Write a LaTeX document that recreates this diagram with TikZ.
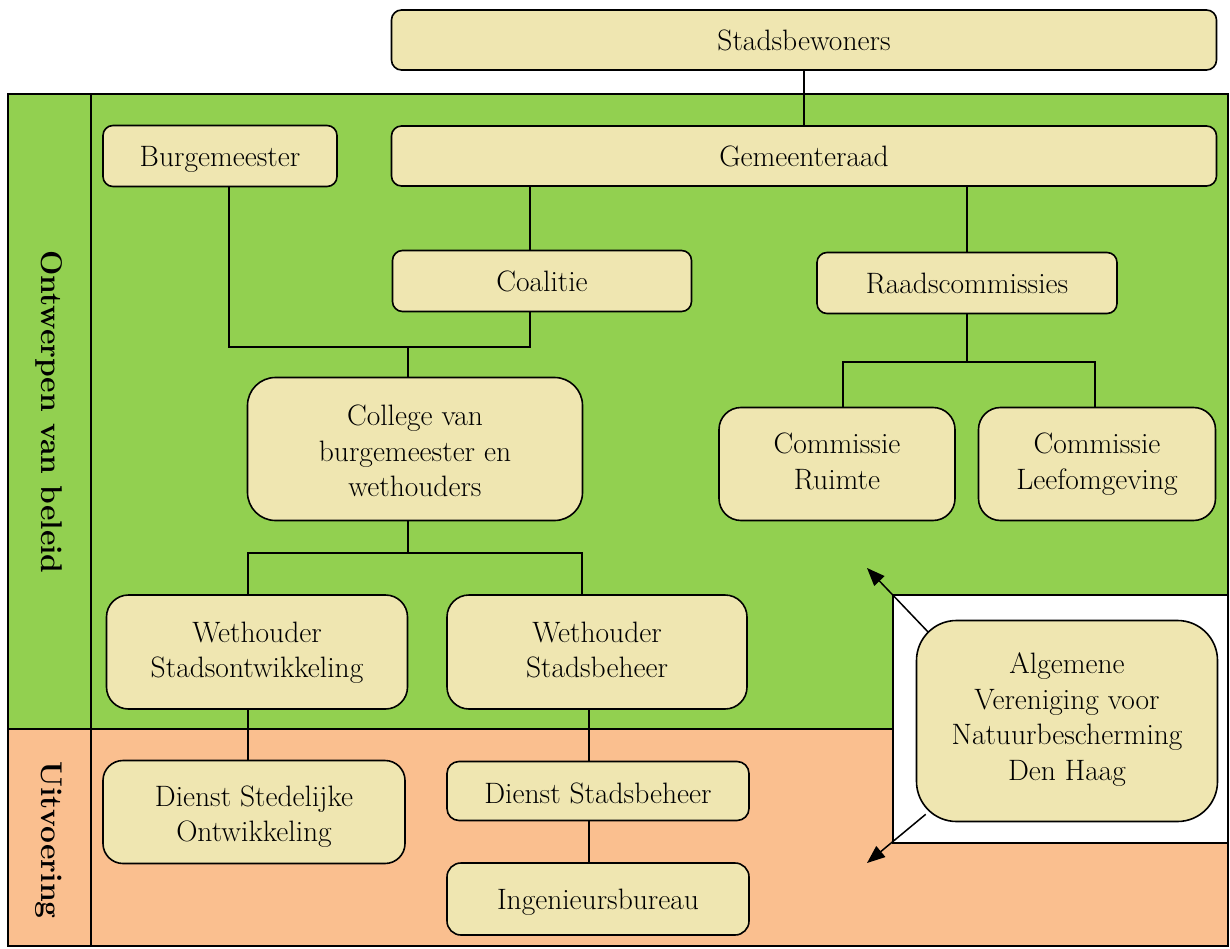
\documentclass[tikz,border=0pt]{standalone}
\usepackage{xcolor}
\usepackage{tikz}
\usetikzlibrary{arrows.meta,positioning,calc}
\pgfdeclarelayer{bg}
\pgfsetlayers{bg,main}
\definecolor{boxtan}{HTML}{EFE6B1}
\definecolor{beleidgreen}{HTML}{92D050}
\definecolor{uitvorange}{HTML}{FABF8F}

\begin{document}
\begin{tikzpicture}[x = 1pt, y = 1pt,
  lift/.style = {execute at begin node = \rule{0pt}{#1}},
  box/.style = {draw, line width = 1.6pt, fill = boxtan, align = center, inner sep = 0pt,
    font = \fontsize{29.5}{35.5}\selectfont,
    lift = 31pt, execute at end node = \strut},
  lbl/.style = {rotate = -90, font = \fontsize{30}{34}\selectfont\bfseries},
  link/.style = {line width = 1.5pt}]
\useasboundingbox (0,0) rectangle (1230,-949);
\node[box, rounded corners = 10pt, minimum width = 825pt, minimum height = 60pt] (sb) at (804,-40) {Stadsbewoners};
\node[box, rounded corners = 10pt, minimum width = 234pt, minimum height = 61pt] (bm) at (220,-156) {Burgemeester};
\node[box, rounded corners = 10pt, minimum width = 825pt, minimum height = 60pt] (gr) at (804,-156) {Gemeenteraad};
\node[box, rounded corners = 10pt, minimum width = 299pt, minimum height = 61pt] (co) at (542,-281) {Coalitie};
\node[box, rounded corners = 10pt, minimum width = 300pt, minimum height = 61pt] (rc) at (967,-283) {Raadscommissies};
\node[box, lift = 106pt, rounded corners = 28pt, minimum width = 335pt, minimum height = 143pt] (cv) at (415,-449) {College van\\burgemeester en\\wethouders};
\node[box, lift = 61pt, rounded corners = 22pt, minimum width = 236pt, minimum height = 113pt] (cru) at (837,-464) {Commissie\\Ruimte};
\node[box, lift = 61pt, rounded corners = 22pt, minimum width = 237pt, minimum height = 113pt] (cle) at (1097,-464) {Commissie\\Leefomgeving};
\node[box, lift = 62pt, rounded corners = 22pt, minimum width = 301pt, minimum height = 114pt] (wso) at (257,-652) {Wethouder\\Stadsontwikkeling};
\node[box, lift = 62pt, rounded corners = 22pt, minimum width = 300pt, minimum height = 114pt] (wsb) at (597,-652) {Wethouder\\Stadsbeheer};
\node[box, lift = 129pt, rounded corners = 40pt, minimum width = 301pt, minimum height = 201pt] (av) at (1067,-721) {Algemene\\Vereniging voor\\Natuurbescherming\\Den Haag};
\node[box, lift = 70pt, rounded corners = 20pt, minimum width = 302pt, minimum height = 103pt] (dso) at (254,-812) {Dienst Stedelijke\\Ontwikkeling};
\node[box, lift = 35pt, rounded corners = 12pt, minimum width = 302pt, minimum height = 59pt] (dsb) at (598,-791) {Dienst Stadsbeheer};
\node[box, lift = 25pt, rounded corners = 14pt, minimum width = 302pt, minimum height = 72pt] (ing) at (598,-899) {Ingenieursbureau};
\node[lbl] (ob) at (49,-412) {Ontwerpen van beleid};
\node[lbl] (ui) at (49,-840) {Uitvoering};

\begin{pgfonlayer}{bg}
% bands
\fill[beleidgreen] (8,-94) rectangle (1228,-729);
\fill[uitvorange] (8,-729) rectangle (1228,-946);
\draw[line width = 1.6pt, fill = white] (1228,-595) -- (893,-595) -- (893,-843) -- (1228,-843);
\draw[line width = 2pt] (8,-94) rectangle (1228,-946);
\draw[line width = 1.6pt] (91,-94) -- (91,-946);
\draw[line width = 1.6pt] (8,-729) -- (893,-729);
% junctions
\coordinate (jc) at (530,-347);
\coordinate (jk) at (408,-347);
\coordinate (jr1) at (843,-362);
\coordinate (jr2) at (1095,-362);
\coordinate (jw1) at (248,-553);
\coordinate (jw2) at (582,-553);
\coordinate (jd) at (589,-700);
\coordinate (t1) at (867,-568);
\coordinate (t2) at (867,-863);
\draw[link] (sb) -- (gr);
\draw[link] ([xshift=9pt]bm.south) |- (jc) -- (jc |- co.south);
\draw[link] (gr.south -| jc) -- (jc |- co.north);
\draw[link] (jk) -- (jk |- cv.north);
\draw[link] (gr.south -| rc.north) -- (rc.north);
\draw[link] (rc.south) -- (rc.south |- jr1);
\draw[link] (jr1 |- cru.north) -- (jr1) -- (jr2) -- (jr2 |- cle.north);
\draw[link] (cv.south -| jk) -- (jk |- jw1);
\draw[link] (jw1 |- wso.north) -- (jw1) -- (jw2) -- (jw2 |- wsb.north);
\draw[link] (wso.south -| jw1) -- (jw1 |- dso.north);
\draw[link] (wsb.south -| jd) -- (jd |- dsb.north);
\draw[link] (dsb.south -| jd) -- (jd |- ing.north);
% arrows from the Vereniging
\draw[link, -{Triangle[length=18pt,width=14pt]}] ($(av.north west)+(14,-14)$) -- (t1);
\draw[link, -{Triangle[length=18pt,width=14pt]}] ($(av.south west)+(10,8)$) -- (t2);
\end{pgfonlayer}
\end{tikzpicture}
\end{document}
